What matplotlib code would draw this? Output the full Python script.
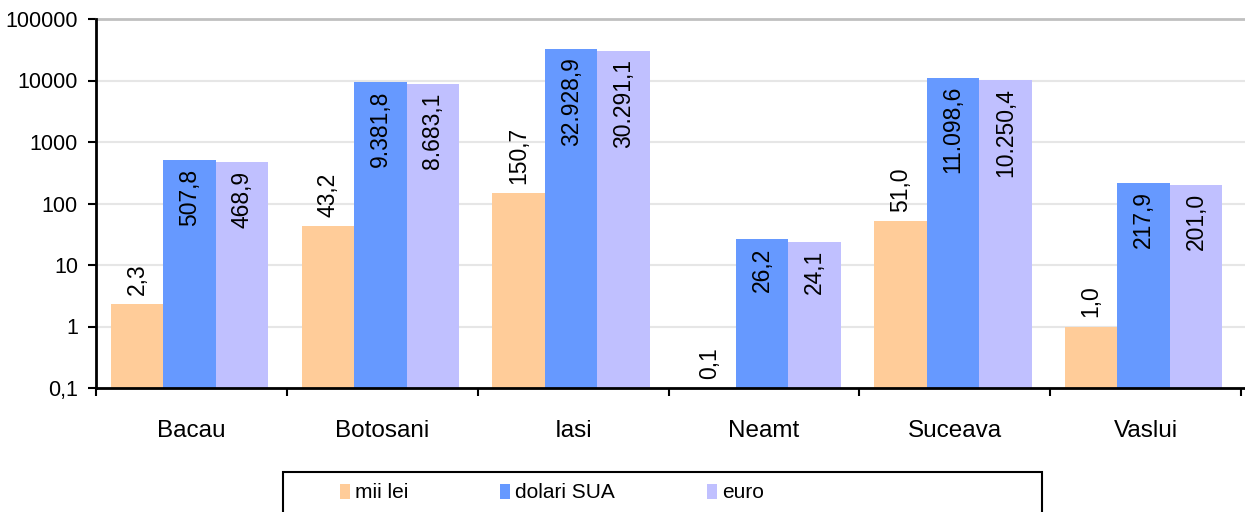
import numpy as np
import matplotlib
matplotlib.use("Agg")
import matplotlib.pyplot as plt
from matplotlib.patches import Rectangle
from matplotlib.ticker import FixedLocator, NullFormatter

plt.rcParams['font.family'] = ['Liberation Sans', 'DejaVu Sans']

judete = ["Bacau", "Botosani", "Iasi", "Neamt", "Suceava", "Vaslui"]
mii_lei = [2.3, 43.2, 150.7, 0.1, 51.0, 1.0]
dolari_sua = [507.8, 9381.8, 32928.9, 26.2, 11098.6, 217.9]
euro = [468.9, 8683.1, 30291.1, 24.1, 10250.4, 201.0]
serii = ["mii lei", "dolari SUA", "euro"]
culori = ["#FFCC99", "#6699FF", "#C0C0FF"]
y_ticks = [0.1, 1, 10, 100, 1000, 10000, 100000]
y_labels = ["0,1", "1", "10", "100", "1000", "10000", "100000"]


def fmt_ro(v):
    # 1.234,5 style numbers
    s = f"{v:,.1f}"
    return s.replace(",", "X").replace(".", ",").replace("X", ".")


W, H = 1245, 512
fig = plt.figure(figsize=(W / 100, H / 100), dpi=100)
ax = fig.add_axes([96 / W, 1 - 388 / H, 1 - 96 / W, (388 - 19) / H])

x = np.arange(len(judete))
w = 0.275
shift = -0.01
for i, (vals, col) in enumerate(zip([mii_lei, dolari_sua, euro], culori)):
    xs = x + shift + (i - 1) * w
    ax.bar(xs, vals, width=w, color=col, zorder=2, label=serii[i])
    for xb, v in zip(xs, vals):
        if i == 0:
            ax.annotate(fmt_ro(v), (xb, v), xytext=(0, 6.5), textcoords="offset points",
                        rotation=90, ha="center", va="bottom", fontsize=16.5, zorder=3)
        else:
            ax.annotate(fmt_ro(v), (xb, v), xytext=(0, -6), textcoords="offset points",
                        rotation=90, ha="center", va="top", fontsize=16.5, zorder=3)

ax.set_yscale("log")
ax.set_ylim(0.1, 100000)
ax.set_xlim(-0.5, 5.5 + 4 / 192)
ax.yaxis.set_major_locator(FixedLocator(y_ticks))
ax.yaxis.set_minor_locator(FixedLocator([]))
ax.set_yticklabels(y_labels, fontsize=15.5)
ax.yaxis.set_minor_formatter(NullFormatter())

ax.set_xticks(x)
ax.set_xticklabels(judete, fontsize=17.5)
ax.set_xticks(np.arange(-0.5, 6, 1), minor=True)
ax.tick_params(axis="x", which="major", length=0, pad=23)
ax.tick_params(axis="x", which="minor", length=6, width=1.5, direction="out")
ax.tick_params(axis="y", which="major", length=6, width=1.5, direction="out", pad=7)

ax.grid(axis="y", which="major", color="#e6e6e6", linewidth=1.5, zorder=0)
ax.set_axisbelow(True)
for side in ["left", "bottom"]:
    ax.spines[side].set_color("black")
    ax.spines[side].set_linewidth(2)
    ax.spines[side].set_zorder(4)
ax.spines["top"].set_color("#c0c0c0")
ax.spines["top"].set_linewidth(2)
ax.spines["right"].set_visible(False)

# legend box at the bottom
fig.patches.append(Rectangle((283 / W, -0.02), (1042 - 283) / W, 1 - 472 / H + 0.02,
                             transform=fig.transFigure, fill=False,
                             edgecolor="black", linewidth=1.5))
fig.legend(loc="center left", bbox_to_anchor=(340 / W, 1 - 493 / H), ncol=3,
           frameon=False, fontsize=15, handlelength=0.48, handleheight=0.75,
           handletextpad=0.25, columnspacing=4.4, borderpad=0, borderaxespad=0)

fig.savefig("out.png", dpi=100)
